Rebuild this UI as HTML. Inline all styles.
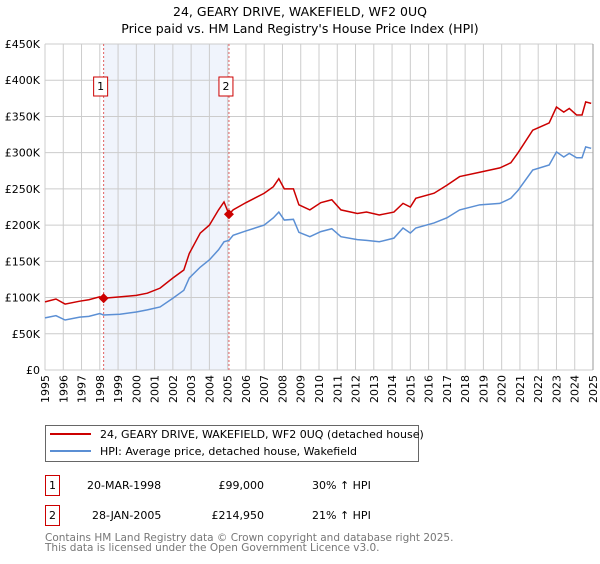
<!DOCTYPE html>
<html><head><meta charset="utf-8"><style>
body{margin:0;background:#fff;width:600px;height:560px;overflow:hidden;font-family:"DejaVu Sans","Liberation Sans",sans-serif;}
svg text{font-family:"DejaVu Sans","Liberation Sans",sans-serif;}
</style></head><body>
<svg width="600" height="560" viewBox="0 0 600 560">
<text x="300" y="16" text-anchor="middle" font-size="12.5">24, GEARY DRIVE, WAKEFIELD, WF2 0UQ</text>
<text x="300" y="33" text-anchor="middle" font-size="12.5">Price paid vs. HM Land Registry's House Price Index (HPI)</text>
<g id="plot"></g>
<g>
<rect x="45.5" y="425.5" width="373" height="36" fill="#fff" stroke="#666"/>
<line x1="50" y1="434" x2="91" y2="434" stroke="#cc0000" stroke-width="2"/>
<text x="100" y="438" font-size="11">24, GEARY DRIVE, WAKEFIELD, WF2 0UQ (detached house)</text>
<line x1="50" y1="451" x2="91" y2="451" stroke="#5b8fd4" stroke-width="2"/>
<text x="100" y="455" font-size="11">HPI: Average price, detached house, Wakefield</text>
</g>
<g>
<rect x="45.5" y="475.5" width="14" height="20" fill="#fff" stroke="#cc0000"/>
<text x="52.5" y="489" font-size="11" text-anchor="middle">1</text>
<text x="87" y="489" font-size="11">20-MAR-1998</text>
<text x="264" y="489" font-size="11" text-anchor="end">£99,000</text>
<text x="312" y="489" font-size="11">30% ↑ HPI</text>
<rect x="45.5" y="505.5" width="14" height="20" fill="#fff" stroke="#cc0000"/>
<text x="52.5" y="519" font-size="11" text-anchor="middle">2</text>
<text x="92" y="519" font-size="11">28-JAN-2005</text>
<text x="264" y="519" font-size="11" text-anchor="end">£214,950</text>
<text x="312" y="519" font-size="11">21% ↑ HPI</text>
</g>
<text x="45" y="541" font-size="10.5" fill="#777">Contains HM Land Registry data © Crown copyright and database right 2025.</text>
<text x="45" y="551" font-size="10.5" fill="#777">This data is licensed under the Open Government Licence v3.0.</text>
</svg>
<script>
const hpiYears=[1995.0,1995.6,1996.1,1996.9,1997.4,1998.0,1998.2,1999.1,2000.0,2000.6,2001.3,2002.0,2002.6,2002.9,2003.5,2004.0,2004.5,2004.8,2005.07,2005.3,2006.0,2007.0,2007.5,2007.8,2008.1,2008.6,2008.9,2009.5,2010.1,2010.7,2011.2,2012.1,2012.6,2013.3,2014.1,2014.6,2015.0,2015.3,2016.3,2017.0,2017.7,2018.8,2019.9,2020.5,2020.9,2021.7,2022.6,2023.0,2023.4,2023.7,2024.1,2024.4,2024.6,2024.9];
const hpiValues=[72,75,69,73,74,78,76,77,80,83,87,99,110,127,142,152,166,177,179,186,192,200,210,218,207,208,190,184,191,195,184,180,179,177,182,196,189,196,203,210,221,228,230,237,248,276,283,301,294,299,293,293,308,306];
const priceValues=[94,98,91,95,97,101,99,101,103,106,113,127,138,161,189,200,221,232,215,221,231,244,253,264,250,250,228,221,231,235,221,216,218,214,218,230,225,237,244,255,267,273,279,286,300,331,341,363,356,361,352,352,370,368];
const saleYears=[1998.21,2005.07];
const saleValues=[99,214.95];
const saleLabels=["1","2"];
const yTicks=[0,50,100,150,200,250,300,350,400,450];
const yTickLabels=["£0","£50K","£100K","£150K","£200K","£250K","£300K","£350K","£400K","£450K"];
const xTicks=[1995,1996,1997,1998,1999,2000,2001,2002,2003,2004,2005,2006,2007,2008,2009,2010,2011,2012,2013,2014,2015,2016,2017,2018,2019,2020,2021,2022,2023,2024,2025];

const X0=45,X1=593,Y0=370,Y1=44;
const xs=y=>X0+(y-1995)/30*(X1-X0);
const ys=v=>Y0-v/450*(Y0-Y1);
const NS="http://www.w3.org/2000/svg";
const g=document.getElementById('plot');
function mk(t,a){const e=document.createElementNS(NS,t);for(const k in a)e.setAttribute(k,a[k]);g.appendChild(e);return e;}

const shade=mk('rect',{x:xs(saleYears[0]),y:Y1,width:xs(saleYears[1])-xs(saleYears[0]),height:Y0-Y1,fill:'#f0f4fc'});


xTicks.forEach(t=>{
  const l=mk('line',{x1:xs(t),x2:xs(t),y1:Y1,y2:Y0,stroke:'#cccccc','stroke-width':1});
  
  
  const tx=mk('text',{x:0,y:0,'font-size':11,'text-anchor':'end',transform:`translate(${xs(t)+4},${Y0+5}) rotate(-90)`});
  tx.textContent=t;
  
  
});
yTicks.forEach((t,i)=>{
  const l=mk('line',{x1:X0,x2:X1,y1:ys(t),y2:ys(t),stroke:'#cccccc','stroke-width':1});
  
  
  const tx=mk('text',{x:40,y:ys(t)+4,'font-size':11,'text-anchor':'end'});
  tx.textContent=yTickLabels[i];
  
  
});
saleYears.forEach((s,i)=>{
  const l=mk('line',{x1:xs(s),x2:xs(s),y1:Y1,y2:Y0,stroke:'#e06060','stroke-width':1,'stroke-dasharray':'2,2'});
  
  
  const bx=xs(s)-3;
  const r=mk('rect',{x:bx-7,y:77,width:14,height:19,fill:'#fff',stroke:'#cc0000'});
  
  
  const t=mk('text',{x:bx,y:90,'font-size':11,'text-anchor':'middle'});
  t.textContent=saleLabels[i];
  
  
});
const hp=mk('polyline',{points:hpiYears.map((y,i)=>xs(y)+','+ys(hpiValues[i])).join(' '),fill:'none',stroke:'#5b8fd4','stroke-width':1.5});


const pp=mk('polyline',{points:hpiYears.map((y,i)=>xs(y)+','+ys(priceValues[i])).join(' '),fill:'none',stroke:'#cc0000','stroke-width':1.5});


saleYears.forEach((s,i)=>{
  const x=xs(s),y=ys(saleValues[i]);
  const d=mk('polygon',{points:`${x},${y-5} ${x+5},${y} ${x},${y+5} ${x-5},${y}`,fill:'#cc0000'});
  
  
});
const ax=mk('line',{x1:X1,x2:X1,y1:Y1,y2:Y0,stroke:'#999','stroke-width':1});


</script>
</body></html>
